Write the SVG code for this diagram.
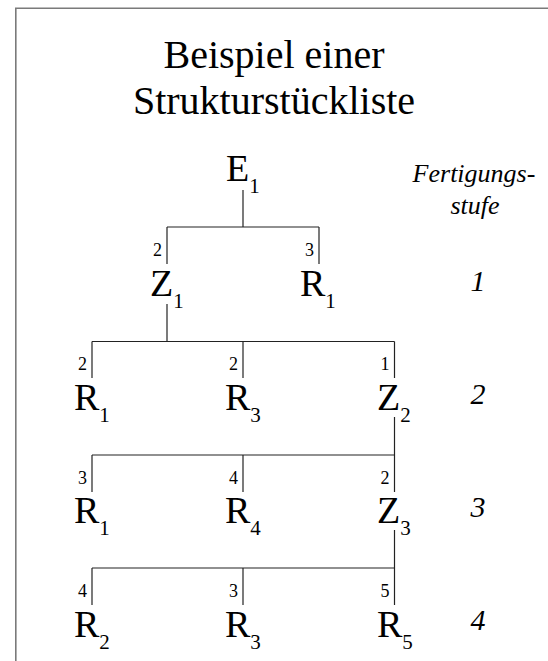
<svg xmlns="http://www.w3.org/2000/svg" width="548" height="661" viewBox="0 0 548 661">
<style>
text{font-family:"Liberation Serif","Times New Roman",serif}
.title{font-size:40px;text-anchor:middle}
.n{font-size:38px}
.s{font-size:21px}
.q{font-size:18px;text-anchor:end}
.lvl{font-size:30px;font-style:italic;text-anchor:middle}
.hd{font-size:26px;font-style:italic;text-anchor:middle}
.c line{stroke:#222;stroke-width:1.2}
</style>
<rect width="548" height="661" fill="#fff"/>
<path d="M15.8 661 V8.2 H548" fill="none" stroke="#7a7a7a" stroke-width="1.6"/>
<g id="title">
<text class="title" x="274" y="68">Beispiel einer</text>
<text class="title" x="274" y="114">Strukturstückliste</text>
</g>
<g id="header">
<text class="hd" x="474" y="182">Fertigungs-</text>
<text class="hd" x="475" y="214">stufe</text>
</g>
<g id="levels">
<text class="lvl" x="478" y="291">1</text>
<text class="lvl" x="478" y="404">2</text>
<text class="lvl" x="478" y="517">3</text>
<text class="lvl" x="478" y="630">4</text>
</g>
<g class="c" id="connectors">
<line x1="243" y1="190" x2="243" y2="227"/>
<line x1="167" y1="227" x2="319" y2="227"/>
<line x1="167" y1="227" x2="167" y2="264"/>
<line x1="319" y1="227" x2="319" y2="264"/>
<line x1="167" y1="304" x2="167" y2="341.5"/>
<line x1="92" y1="341.5" x2="394.5" y2="341.5"/>
<line x1="92" y1="341.5" x2="92" y2="378"/>
<line x1="243" y1="341.5" x2="243" y2="378"/>
<line x1="394.5" y1="341.5" x2="394.5" y2="378"/>
<line x1="394.5" y1="417" x2="394.5" y2="455"/>
<line x1="92" y1="455" x2="394.5" y2="455"/>
<line x1="92" y1="455" x2="92" y2="492"/>
<line x1="243" y1="455" x2="243" y2="492"/>
<line x1="394.5" y1="455" x2="394.5" y2="492"/>
<line x1="394.5" y1="530" x2="394.5" y2="568"/>
<line x1="92" y1="568" x2="394.5" y2="568"/>
<line x1="92" y1="568" x2="92" y2="605"/>
<line x1="243" y1="568" x2="243" y2="605"/>
<line x1="394.5" y1="568" x2="394.5" y2="605"/>
</g>
<g id="E1"><text class="n" x="226" y="181">E<tspan class="s" dy="12">1</tspan></text></g>
<g id="Z1"><text class="q" x="162" y="256">2</text><text class="n" x="150" y="296">Z<tspan class="s" dy="12">1</tspan></text></g>
<g id="R1a"><text class="q" x="314" y="256">3</text><text class="n" x="300" y="296">R<tspan class="s" dy="12">1</tspan></text></g>
<g id="R1b"><text class="q" x="87" y="370">2</text><text class="n" x="74" y="409.5">R<tspan class="s" dy="12">1</tspan></text></g>
<g id="R3a"><text class="q" x="238" y="370">2</text><text class="n" x="225" y="409.5">R<tspan class="s" dy="12">3</tspan></text></g>
<g id="Z2"><text class="q" x="389.5" y="370">1</text><text class="n" x="377" y="409.5">Z<tspan class="s" dy="12">2</tspan></text></g>
<g id="R1c"><text class="q" x="87" y="484">3</text><text class="n" x="74" y="522.5">R<tspan class="s" dy="12">1</tspan></text></g>
<g id="R4"><text class="q" x="238" y="484">4</text><text class="n" x="225" y="522.5">R<tspan class="s" dy="12">4</tspan></text></g>
<g id="Z3"><text class="q" x="389.5" y="484">2</text><text class="n" x="377" y="522.5">Z<tspan class="s" dy="12">3</tspan></text></g>
<g id="R2"><text class="q" x="87" y="597">4</text><text class="n" x="74" y="636.5">R<tspan class="s" dy="12">2</tspan></text></g>
<g id="R3b"><text class="q" x="238" y="597">3</text><text class="n" x="225" y="636.5">R<tspan class="s" dy="12">3</tspan></text></g>
<g id="R5"><text class="q" x="389.5" y="597">5</text><text class="n" x="377" y="636.5">R<tspan class="s" dy="12">5</tspan></text></g>
</svg>
